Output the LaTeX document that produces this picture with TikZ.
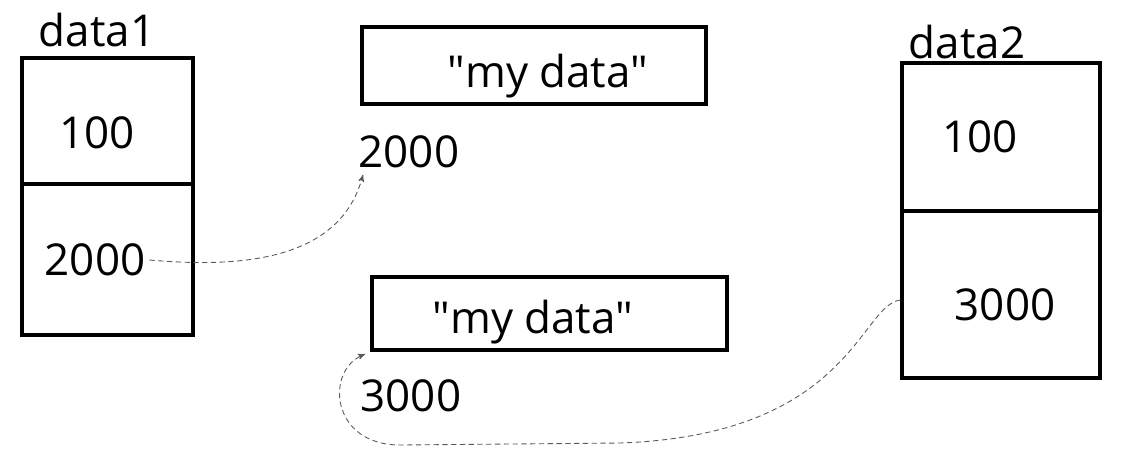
\documentclass[tikz,border=0pt]{standalone}
\usepackage{fontspec}
\setmainfont{Open Sans}
\usepackage{tikz}
\usetikzlibrary{arrows}

\begin{document}
\begin{tikzpicture}[>=stealth',thick,
    cell/.style={draw,line width=1.9pt,rectangle,inner sep=0pt},
    txt/.style={font=\fontsize{25}{29}\selectfont,inner sep=0pt},
    ref/.style={->,densely dashed,gray!70!black,line width=0.5pt}]
    \useasboundingbox (0,0) rectangle (22.9,-9.34);
    % data1
    \node[txt] (d1name) at (1.94,-0.6) {data1};
    \node[cell,minimum width=3.42cm,minimum height=2.52cm] (d1top) at (2.15,-2.42) {};
    \node[cell,minimum width=3.42cm,minimum height=3.02cm] (d1bot) at (2.15,-5.19) {};
    \node[txt] (d1val) at (1.94,-2.66) {100};
    \node[txt] (d1ptr) at (1.9,-5.2) {2000};
    % strings
    \node[cell,minimum width=6.88cm,minimum height=1.54cm] (str1) at (10.68,-1.31) {};
    \node[txt] at (10.96,-1.52) {\textquotedbl my data\textquotedbl};
    \node[txt,anchor=west] (addr1) at (7.16,-3.04) {2000};
    \node[cell,minimum width=7.1cm,minimum height=1.46cm] (str2) at (10.99,-6.27) {};
    \node[txt] at (10.66,-6.44) {\textquotedbl my data\textquotedbl};
    \node[txt,anchor=west] (addr2) at (7.2,-7.92) {3000};
    % data2
    \node[txt] (d2name) at (19.34,-0.84) {data2};
    \node[cell,minimum width=3.96cm,minimum height=2.96cm] (d2top) at (20.02,-2.74) {};
    \node[cell,minimum width=3.96cm,minimum height=3.34cm] (d2bot) at (20.02,-5.89) {};
    \node[txt] (d2val) at (19.6,-2.74) {100};
    \node[txt] (d2ptr) at (20.1,-6.1) {3000};
    % pointers
    \draw[ref] ([xshift=2pt]d1ptr.east) to[out=-5,in=-105] ([xshift=0.1cm,yshift=-0.12cm]addr1.south west);
    \coordinate (low) at (8.0,-8.9);
    \draw[ref] (d2bot.west |- 0,-6.0) .. controls (17.2,-6.1) and (17.0,-8.7) .. (12.4,-8.86)
      -- (low) .. controls (6.6,-8.9) and (6.5,-7.4) .. ([xshift=0.1cm,yshift=0.5cm]addr2.north west);
  \end{tikzpicture}
\end{document}
